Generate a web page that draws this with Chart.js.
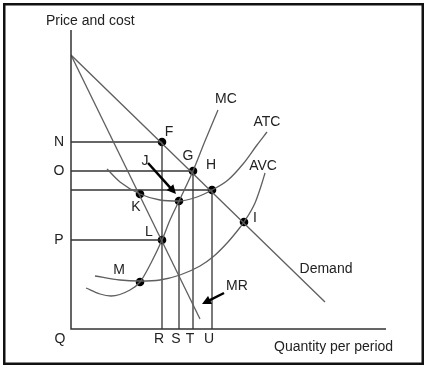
<!DOCTYPE html>
<html>
<head>
<meta charset="utf-8">
<script src="https://cdn.jsdelivr.net/npm/chart.js@4/dist/chart.umd.min.js"></script>
<style>
  html, body { margin: 0; padding: 0; background: #fff; }
  canvas { display: block; }
</style>
</head>
<body>
<canvas id="grafico" width="428" height="369"></canvas>
<script>
// Curvas (unidades del grafico: cantidad, precio)
const demanda = [[0, 274], [254, 27]];
const ingresoMarginal = [[0, 274], [129, 10]];
const costoMarginal = [[15, 41], [29, 35], [40, 33], [59, 39], [69, 47], [80, 66], [91, 89], [99, 109], [108, 128], [122, 158], [134, 188], [147, 219]];
const costoTotalMedio = [[36, 160], [49, 147], [69, 135], [89, 129], [108, 128], [126, 132], [141, 139], [157, 149], [172, 165], [186, 184], [196, 197]];
const costoVariableMedio = [[24, 53], [49, 49], [69, 48], [89, 49], [109, 54], [129, 63], [143, 73], [157, 87], [167, 99], [173, 107], [184, 126], [191, 146], [194, 156]];

// Puntos marcados
const puntosNombres = ['F', 'G', 'H', 'I', 'J', 'K', 'L', 'M'];
const puntosX = [91, 122, 141, 173, 108, 69, 91, 69];
const puntosY = [187, 158, 139, 107, 128, 135, 89, 47];

// Lineas guia y etiquetas de los ejes
const nivelesPrecio = [187, 158, 139, 89];
const finPrecio = [91, 122, 141, 91];
const etiquetasPrecio = ['N', 'O', '', 'P'];
const nivelesCantidad = [91, 108, 122, 141];
const finCantidad = [187, 128, 158, 139];
const etiquetasCantidad = ['R', 'S', 'T', 'U'];

const aPuntos = arr => arr.map(p => ({ x: p[0], y: p[1] }));

const datasets = [];
function curva(datos, color) {
    datasets.push({
        data: aPuntos(datos), showLine: true, borderColor: color, borderWidth: 1.3,
        pointRadius: 0, cubicInterpolationMode: 'monotone', fill: false
    });
}
curva(demanda, '#5f5f5f');
curva(ingresoMarginal, '#5f5f5f');
curva(costoMarginal, '#5f5f5f');
curva(costoTotalMedio, '#5f5f5f');
curva(costoVariableMedio, '#5f5f5f');

nivelesPrecio.forEach((y, i) => {
    datasets.push({ data: [{ x: 0, y: y }, { x: finPrecio[i], y: y }], showLine: true,
        borderColor: '#333', borderWidth: 1.3, pointRadius: 0 });
});
nivelesCantidad.forEach((x, i) => {
    datasets.push({ data: [{ x: x, y: 0 }, { x: x, y: finCantidad[i] }], showLine: true,
        borderColor: '#333', borderWidth: 1.3, pointRadius: 0 });
});
datasets.push({
    data: puntosX.map((x, i) => ({ x: x, y: puntosY[i] })), showLine: false,
    pointRadius: 4.3, pointBackgroundColor: '#000', pointBorderColor: '#000', pointBorderWidth: 0
});

// Etiquetas de texto (posicion en unidades del grafico)
const rotulos = [
    ['MC', 155, 230], ['ATC', 196, 207], ['AVC', 192, 163], ['Demand', 255, 60], ['MR', 166, 43],
    ['F', 98, 197], ['G', 117, 173], ['H', 140, 164], ['I', 184, 111], ['J', 74, 168],
    ['K', 65, 122], ['L', 78, 97], ['M', 48, 59]
];
// Flechas
const flechas = [[[77, 166], [105, 135]], [[153, 36], [131, 25]]];

const dibujo = {
    id: 'dibujo',
    beforeDraw(chart) {
        const c = chart.ctx;
        c.save();
        c.fillStyle = '#fff';
        c.fillRect(0, 0, chart.width, chart.height);
        c.restore();
    },
    afterDatasetsDraw(chart) {
        const c = chart.ctx, sx = chart.scales.x, sy = chart.scales.y;
        const px = v => sx.getPixelForValue(v), py = v => sy.getPixelForValue(v);
        c.save();
        // marco
        c.strokeStyle = '#111';
        c.lineWidth = 2.5;
        c.strokeRect(4.25, 4.25, 418.5, 359.5);
        // ejes
        c.strokeStyle = '#333';
        c.lineWidth = 1.5;
        c.beginPath();
        c.moveTo(px(0), py(sy.max));
        c.lineTo(px(0), py(0));
        c.lineTo(px(sx.max), py(0));
        c.stroke();
        // flechas
        c.strokeStyle = '#000';
        c.fillStyle = '#000';
        flechas.forEach(f => {
            const x1 = px(f[0][0]), y1 = py(f[0][1]), x2 = px(f[1][0]), y2 = py(f[1][1]);
            const ang = Math.atan2(y2 - y1, x2 - x1);
            c.lineWidth = 2.5;
            c.beginPath();
            c.moveTo(x1, y1);
            c.lineTo(x2 - 6 * Math.cos(ang), y2 - 6 * Math.sin(ang));
            c.stroke();
            c.beginPath();
            c.moveTo(x2, y2);
            c.lineTo(x2 - 9 * Math.cos(ang) + 4.5 * Math.sin(ang), y2 - 9 * Math.sin(ang) - 4.5 * Math.cos(ang));
            c.lineTo(x2 - 9 * Math.cos(ang) - 4.5 * Math.sin(ang), y2 - 9 * Math.sin(ang) + 4.5 * Math.cos(ang));
            c.closePath();
            c.fill();
        });
        // textos
        c.fillStyle = '#222';
        c.font = '14px "Liberation Sans", Arial, sans-serif';
        c.textBaseline = 'middle';
        c.textAlign = 'center';
        rotulos.forEach(r => c.fillText(r[0], px(r[1]), py(r[2])));
        nivelesPrecio.forEach((y, i) => {
            if (etiquetasPrecio[i]) c.fillText(etiquetasPrecio[i], px(0) - 12, py(y));
        });
        nivelesCantidad.forEach((x, i) => c.fillText(etiquetasCantidad[i], px(x) - 3, py(0) + 10));
        c.fillText('Q', px(0) - 11, py(0) + 10);
        c.textAlign = 'left';
        c.fillText('Price and cost', 46, 21);
        c.fillText('Quantity per period', 274, 347);
        c.restore();
    }
};

new Chart(document.getElementById('grafico'), {
    type: 'scatter',
    data: { datasets: datasets },
    options: {
        responsive: false,
        devicePixelRatio: 1,
        animation: false,
        layout: { padding: { left: 71, top: 30, right: 42, bottom: 40 } },
        plugins: { legend: { display: false }, tooltip: { enabled: false } },
        scales: {
            x: { type: 'linear', min: 0, max: 315, display: false },
            y: { type: 'linear', min: 0, max: 299, display: false }
        }
    },
    plugins: [dibujo]
});
</script>
</body>
</html>
